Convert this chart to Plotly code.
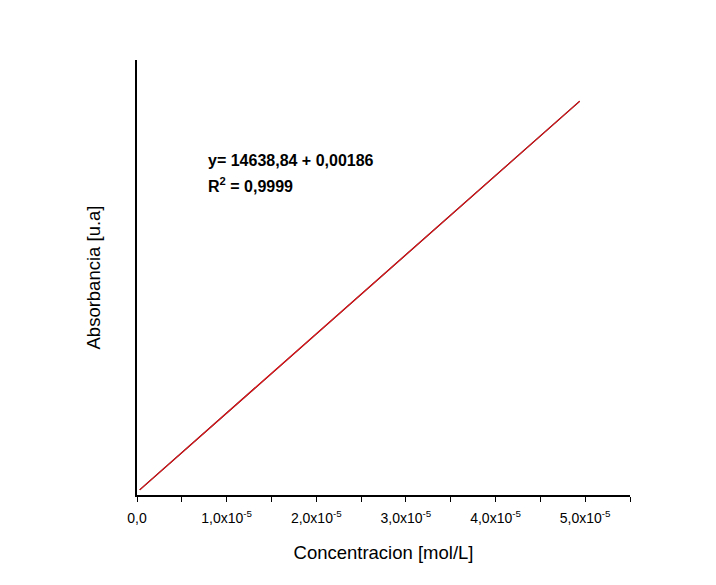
import plotly.graph_objects as go

# Data
concentracion = [0.03e-5, 1.0e-5, 2.0e-5, 3.0e-5, 4.0e-5, 4.94e-5]
absorbancia = [0.0062, 0.1483, 0.2946, 0.4410, 0.5874, 0.7250]
slope = 14638.84
intercept = 0.00186
tick_vals = [0, 1.0e-5, 2.0e-5, 3.0e-5, 4.0e-5, 5.0e-5]
tick_text = ["0,0", "1,0x10<sup>-5</sup>", "2,0x10<sup>-5</sup>",
             "3,0x10<sup>-5</sup>", "4,0x10<sup>-5</sup>", "5,0x10<sup>-5</sup>"]

fit_x = [concentracion[0], concentracion[-1]]
fit_y = [slope * x + intercept for x in fit_x]

fig = go.Figure()
fig.add_trace(go.Scatter(x=concentracion, y=absorbancia, mode="lines",
                         line=dict(color="black", width=1.2), showlegend=False))
fig.add_trace(go.Scatter(x=fit_x, y=fit_y, mode="lines",
                         line=dict(color="#e8151b", width=1.2), showlegend=False))

fig.add_annotation(x=0.14, y=0.77, xref="x domain", yref="y domain",
                   xanchor="left", yanchor="middle", showarrow=False, align="left",
                   text="<b>y= 14638,84 + 0,00186</b>",
                   font=dict(family="Liberation Sans, Arial", size=16, color="black"))
fig.add_annotation(x=0.14, y=0.713, xref="x domain", yref="y domain",
                   xanchor="left", yanchor="middle", showarrow=False, align="left",
                   text="<b>R<sup>2</sup> = 0,9999</b>",
                   font=dict(family="Liberation Sans, Arial", size=16, color="black"))

fig.update_layout(
    width=716, height=585,
    margin=dict(l=137, r=86, t=60, b=90),
    paper_bgcolor="white", plot_bgcolor="white",
    font=dict(family="Liberation Sans, Arial", color="black"),
    xaxis=dict(range=[0, 5.5e-5], tickmode="array", tickvals=tick_vals, ticktext=tick_text,
               showgrid=False, zeroline=False, showline=True, linecolor="black",
               linewidth=1.5, ticks="outside", ticklen=5, tickwidth=1.2,
               tickcolor="black", tickfont=dict(size=14), ticklabelstandoff=4,
               minor=dict(tick0=0, dtick=0.5e-5, ticks="outside", ticklen=5,
                          tickwidth=1.2, tickcolor="black", showgrid=False),
               title=dict(text="Concentracion [mol/L]", font=dict(size=18.5), standoff=22)),
    yaxis=dict(range=[-0.0032, 0.801], showgrid=False, zeroline=False,
               showline=True, linecolor="black", linewidth=1.5,
               showticklabels=False, ticks="",
               title=dict(text="Absorbancia [u.a]", font=dict(size=18.5), standoff=30)),
)

fig.write_html("out.html")
